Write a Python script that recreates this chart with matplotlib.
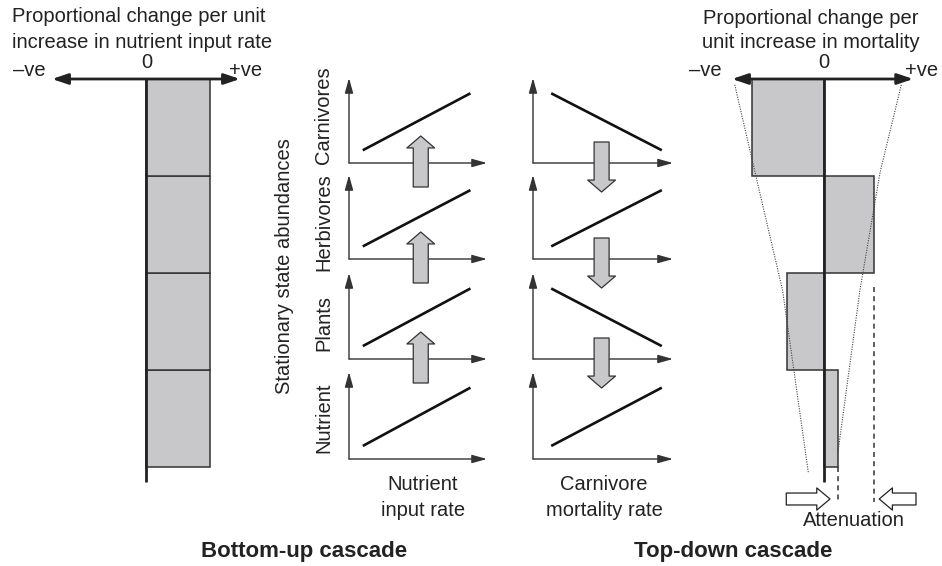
import numpy as np
import matplotlib
matplotlib.use('Agg')
import matplotlib.pyplot as plt

plt.rcParams['font.family'] = ['Liberation Sans', 'DejaVu Sans']

W, H = 942, 566

# trophic levels, bottom to top
levels = ['Nutrient', 'Plants', 'Herbivores', 'Carnivores']

# proportional change per unit increase (axis half-width = 1)
bottom_up_change = [0.68, 0.68, 0.68, 0.68]
top_down_change = [0.15, -0.40, 0.54, -0.78]

# direction of stationary abundance response in the small panels
bottom_up_slope = [1, 1, 1, 1]
top_down_slope = [1, -1, 1, -1]

# dotted envelope of the top-down effect (level position, change)
env_left_y = [3.94, 3.04, 1.82, -0.06]
env_left_x = [-0.97, -0.75, -0.45, -0.17]
env_right_y = [3.94, 3.04, 1.82, 0.14]
env_right_x = [0.84, 0.61, 0.39, 0.15]

BAR_FILL = '#c8c8ca'
DARK = '#222222'


def rect(l, t, r, b):
    return [l / W, 1 - b / H, (r - l) / W, (b - t) / H]


def ftext(x, y, s, **kw):
    kw.setdefault('fontsize', 14.5)
    kw.setdefault('ha', 'center')
    kw.setdefault('va', 'center')
    kw.setdefault('color', '#222222')
    fig.text(x / W, 1 - y / H, s, **kw)


fig = plt.figure(figsize=(W / 100, H / 100), dpi=100)


def bar_panel(box, values, arrow_right):
    ax = fig.add_axes(rect(*box))
    ax.set_xlim(-1, 1)
    ax.set_ylim(-0.5, 4.0)
    ax.axis('off')
    ypos = np.arange(len(values)) + 0.5
    ax.barh(ypos, values, height=1.0, left=0, color=BAR_FILL,
            edgecolor='#333333', linewidth=1.1, zorder=2)
    ax.plot([0, 0], [4, -0.15], color=DARK, lw=2.0,
            solid_capstyle='butt', zorder=3)
    ax.annotate('', xy=(arrow_right, 4), xytext=(-1, 4),
                arrowprops=dict(arrowstyle='<|-|>,head_length=0.95,head_width=0.32',
                                mutation_scale=10, lw=2.0, color=DARK,
                                shrinkA=0, shrinkB=0),
                annotation_clip=False, zorder=4)
    return ax


# left: bottom-up bars
ax_bu = bar_panel((52, 79, 240, 515.5), bottom_up_change, 1.0)

# right: top-down bars
ax_td = bar_panel((732, 79, 916, 515.5), top_down_change, 0.97)
ax_td.plot(env_left_x, env_left_y, color='#444444', lw=0.8, ls=(0, (1, 1.2)),
           zorder=5, clip_on=False)
ax_td.plot(env_right_x, env_right_y, color='#444444', lw=0.8, ls=(0, (1, 1.2)),
           zorder=5, clip_on=False)
ax_td.plot([top_down_change[0]] * 2, [0, -0.36], color='#444444', lw=1.2,
           ls=(0, (3, 2.5)), zorder=1, clip_on=False)
ax_td.plot([top_down_change[2]] * 2, [1.86, -0.36], color='#444444', lw=1.2,
           ls=(0, (3, 2.5)), zorder=1, clip_on=False)
hollow = dict(arrowstyle='simple,head_length=0.95,head_width=1.6,tail_width=0.86',
              mutation_scale=10, fc='white', ec='#222222', lw=0.9,
              shrinkA=0, shrinkB=0)
ax_td.annotate('', xy=(0.065, -0.33), xytext=(-0.41, -0.33),
               arrowprops=hollow, annotation_clip=False)
ax_td.annotate('', xy=(0.60, -0.33), xytext=(1.0, -0.33),
               arrowprops=hollow, annotation_clip=False)

# small response panels
base_px = [459, 359, 259, 163]
top_px = [372, 273, 175, 78]
columns = [(349, 487, bottom_up_slope, 0.10, 0.88, 0.52, 1),
           (533, 673, top_down_slope, 0.13, 0.92, 0.49, -1)]
axis_style = dict(arrowstyle='-|>,head_length=0.9,head_width=0.25',
                  mutation_scale=10, lw=1.0, color='#333333',
                  shrinkA=0, shrinkB=0)
block = dict(arrowstyle='simple,head_length=0.86,head_width=2.0,tail_width=1.08',
             mutation_scale=10, fc=BAR_FILL, ec='#333333', lw=0.9,
             shrinkA=0, shrinkB=0)

for x0, x1, slopes, lx0, lx1, ax_x, direction in columns:
    for i in range(len(levels)):
        ax = fig.add_axes(rect(x0, top_px[i], x1, base_px[i]))
        ax.set_xlim(0, 1)
        ax.set_ylim(0, 1)
        ax.axis('off')
        ax.annotate('', xy=(1, 0), xytext=(0, 0), xycoords='axes fraction',
                    arrowprops=axis_style, annotation_clip=False)
        ax.annotate('', xy=(0, 1), xytext=(0, 0), xycoords='axes fraction',
                    arrowprops=axis_style, annotation_clip=False)
        ys = [0.15, 0.82] if slopes[i] > 0 else [0.82, 0.15]
        ax.plot([lx0, lx1], ys, color='#111111', lw=1.9,
                solid_capstyle='butt', clip_on=False)
        if i > 0:
            h = base_px[i] - top_px[i]
            if direction > 0:
                tip, tail = 27 / h, -24 / h
            else:
                tip, tail = -29 / h, 21 / h
            ax.annotate('', xy=(ax_x, tip), xytext=(ax_x, tail),
                        arrowprops=block, annotation_clip=False, zorder=6)

# text
ftext(12, 17, 'Proportional change per unit', ha='left')
ftext(12, 42, 'increase in nutrient input rate', ha='left')
ftext(29, 71, '\u2013ve')
ftext(147, 63, '0')
ftext(246, 71, '+ve')

ftext(811, 18, 'Proportional change per')
ftext(811, 42, 'unit increase in mortality')
ftext(705, 71, '\u2013ve')
ftext(824, 63, '0')
ftext(922, 71, '+ve')

ftext(285, 266, 'Stationary state abundances', rotation=90)
label_y = [418, 323, 222, 115]
for name, y in zip(levels, label_y):
    ftext(324, y, name, rotation=90)

ftext(423, 485, 'Nutrient')
ftext(423, 510, 'input rate')
ftext(604, 485, 'Carnivore')
ftext(604, 510, 'mortality rate')
ftext(854, 521, 'Attenuation')

ftext(304, 551, 'Bottom-up cascade', fontweight='bold', fontsize=16)
ftext(733, 551, 'Top-down cascade', fontweight='bold', fontsize=16)

fig.savefig('out.png', dpi=100, facecolor='white')
